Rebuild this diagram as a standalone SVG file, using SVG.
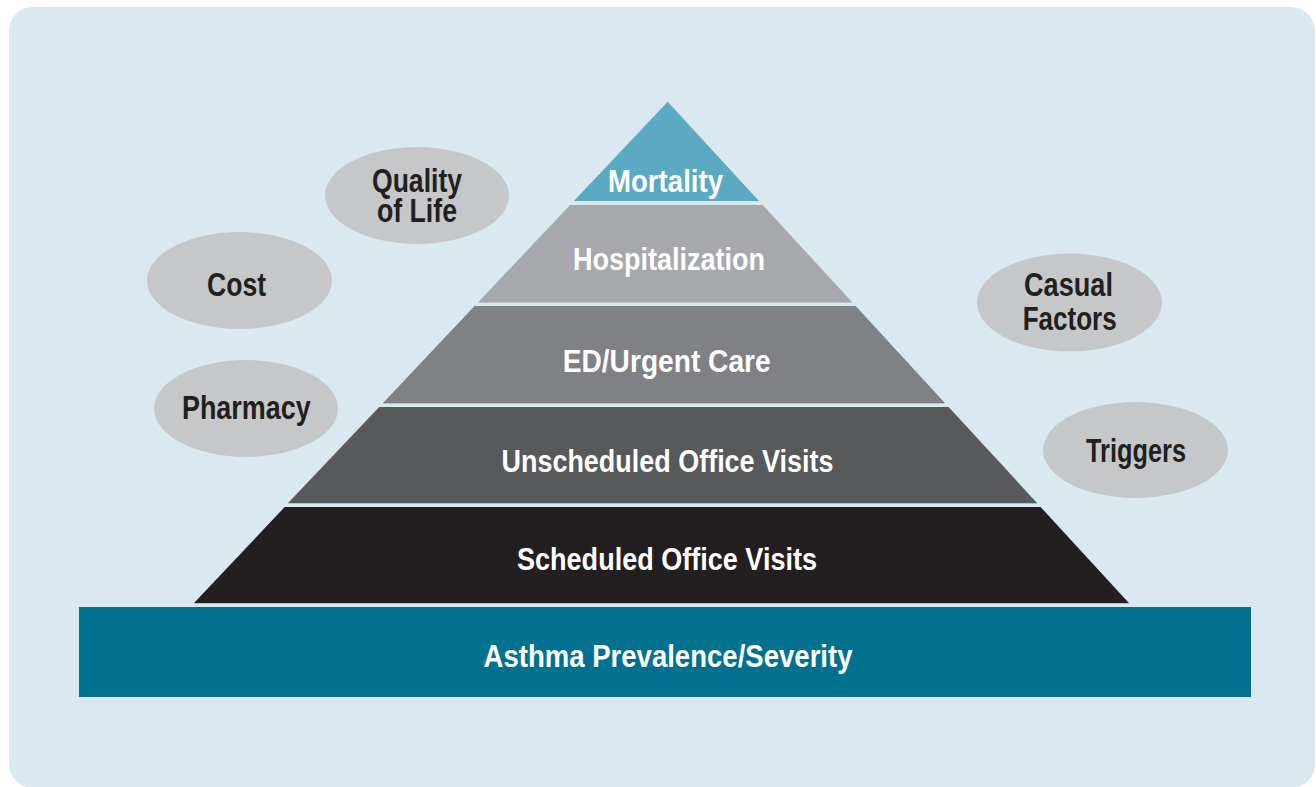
<svg xmlns="http://www.w3.org/2000/svg" width="1316" height="787" viewBox="0 0 1316 787">
  <style>
    .lbl { font-family: "Liberation Sans", Arial, sans-serif; font-weight: bold; text-anchor: middle; }
    .w { fill: #ffffff; font-size: 32px; }
    .d { fill: #231f20; font-size: 33px; }
    .oval { fill: #c6c7c8; }
    .edge { stroke: #b9c2c7; stroke-width: 1; }
  </style>
  <rect x="0" y="0" width="1316" height="787" fill="#ffffff"/>
  <rect id="background" x="9" y="7" width="1306" height="781" rx="24" ry="24" fill="#dae9f0"/>

  <g id="base">
    <rect x="79" y="607" width="1172" height="90" fill="#017190"/>
    <text class="lbl w" x="668" y="667" textLength="369" lengthAdjust="spacingAndGlyphs">Asthma Prevalence/Severity</text>
  </g>

  <g id="layer-scheduled">
    <polygon points="284.7,507 1040.6,507 1128.9,603 194,603" fill="#231f20"/>
    <line class="edge" x1="194" y1="603.5" x2="1128.9" y2="603.5"/>
    <text class="lbl w" x="667" y="570" textLength="300" lengthAdjust="spacingAndGlyphs">Scheduled Office Visits</text>
  </g>

  <g id="layer-unscheduled">
    <polygon points="379.2,407 948.6,407 1037,503 288.1,503" fill="#58595b"/>
    <line class="edge" x1="288.1" y1="503.5" x2="1037" y2="503.5"/>
    <text class="lbl w" x="667.5" y="471.7" textLength="332" lengthAdjust="spacingAndGlyphs">Unscheduled Office Visits</text>
  </g>

  <g id="layer-ed">
    <polygon points="474.6,306 855.7,306 944.9,403 383,403" fill="#808184"/>
    <line class="edge" x1="383" y1="403.5" x2="944.9" y2="403.5"/>
    <text class="lbl w" x="666.7" y="371.7" textLength="208" lengthAdjust="spacingAndGlyphs">ED/Urgent Care</text>
  </g>

  <g id="layer-hospitalization">
    <polygon points="570.1,205 762.7,205 852,302 478.4,302" fill="#a7a8ab"/>
    <line class="edge" x1="478.4" y1="302.5" x2="852" y2="302.5"/>
    <text class="lbl w" x="669" y="270" textLength="192" lengthAdjust="spacingAndGlyphs">Hospitalization</text>
  </g>

  <g id="layer-mortality">
    <polygon points="667.7,101.7 759,201 573.9,201" fill="#5ba9c2"/>
    <text class="lbl w" x="665.5" y="191.7" textLength="115" lengthAdjust="spacingAndGlyphs">Mortality</text>
  </g>

  <g id="node-quality">
    <ellipse class="oval" cx="417" cy="195.5" rx="92" ry="48.5"/>
    <text class="lbl d" x="417" y="192" textLength="90" lengthAdjust="spacingAndGlyphs">Quality</text>
    <text class="lbl d" x="417" y="221.7" textLength="80" lengthAdjust="spacingAndGlyphs">of Life</text>
  </g>

  <g id="node-cost">
    <ellipse class="oval" cx="239.5" cy="280.5" rx="92.5" ry="48.5"/>
    <text class="lbl d" x="236.5" y="296" textLength="59" lengthAdjust="spacingAndGlyphs">Cost</text>
  </g>

  <g id="node-pharmacy">
    <ellipse class="oval" cx="246" cy="408.5" rx="92" ry="48.5"/>
    <text class="lbl d" x="246.3" y="419" textLength="128.7" lengthAdjust="spacingAndGlyphs">Pharmacy</text>
  </g>

  <g id="node-casual">
    <ellipse class="oval" cx="1069.5" cy="302.5" rx="92.5" ry="49"/>
    <text class="lbl d" x="1068.5" y="295.7" textLength="89" lengthAdjust="spacingAndGlyphs">Casual</text>
    <text class="lbl d" x="1069.7" y="330" textLength="94" lengthAdjust="spacingAndGlyphs">Factors</text>
  </g>

  <g id="node-triggers">
    <ellipse class="oval" cx="1135.5" cy="450" rx="92.5" ry="48"/>
    <text class="lbl d" x="1136" y="461.7" textLength="100" lengthAdjust="spacingAndGlyphs">Triggers</text>
  </g>

  <g id="connectors"></g>
</svg>
